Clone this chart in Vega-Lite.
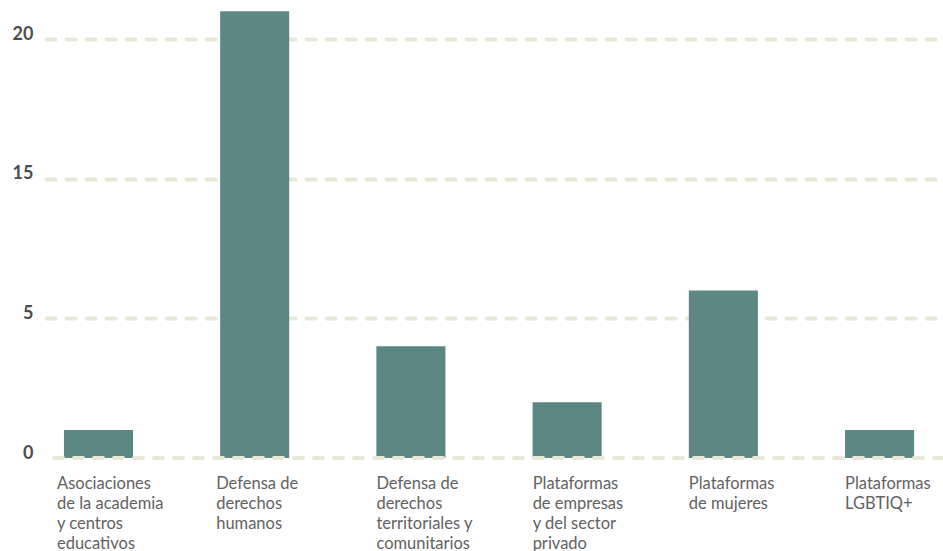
{
  "$schema": "https://vega.github.io/schema/vega-lite/v6.json",
  "width": 897,
  "height": 458,
  "autosize": {"type": "none"},
  "padding": {"left": 46, "top": 0, "right": 0, "bottom": 93},
  "background": "#ffffff",
  "config": {
    "view": {"stroke": null},
    "font": "Lato"
  },
  "layer": [
    {
      "data": {
        "values": [
          {"categoria": "Asociaciones|de la academia|y centros|educativos", "valor": 1},
          {"categoria": "Defensa de|derechos|humanos", "valor": 16},
          {"categoria": "Defensa de|derechos|territoriales y|comunitarios", "valor": 4},
          {"categoria": "Plataformas|de empresas|y del sector|privado", "valor": 2},
          {"categoria": "Plataformas|de mujeres", "valor": 6},
          {"categoria": "Plataformas|LGBTIQ+", "valor": 1}
        ]
      },
      "mark": {"type": "bar", "color": "#5d8784"},
      "encoding": {
        "x": {
          "field": "categoria",
          "type": "nominal",
          "sort": null,
          "scale": {"paddingInner": 0.558, "paddingOuter": 0.15, "align": 0.383},
          "axis": {
            "title": null,
            "domain": false,
            "ticks": false,
            "labelAngle": 0,
            "labelAlign": "left",
            "labelBaseline": "top",
            "labelOffset": {"expr": "datum.value == 'Asociaciones|de la academia|y centros|educativos' ? -41.5 : datum.value == 'Defensa de|derechos|humanos' ? -38.5 : -34.5"},
            "labelPadding": 17,
            "labelFont": "Lato",
            "labelFontSize": 16.5,
            "labelColor": "#626262",
            "labelLineHeight": 20,
            "labelExpr": "split(datum.label, '|')",
            "labelLimit": 200
          }
        },
        "y": {
          "field": "valor",
          "type": "quantitative",
          "scale": {"domain": [0, 16.4], "nice": false},
          "axis": {
            "title": null,
            "domain": false,
            "ticks": false,
            "values": [0, 5, 10, 15],
            "labelExpr": "datum.value == 10 ? '15' : datum.value == 15 ? '20' : datum.label",
            "labelFont": "Lato",
            "labelFontSize": 18,
            "labelFontWeight": "bold",
            "labelColor": "#4d4d4d",
            "labelBaseline": "alphabetic",
            "labelPadding": 13,
            "grid": true,
            "gridColor": "#e9e7d8",
            "gridOpacity": {"condition": {"test": "datum.value == 0", "value": 0}, "value": 1},
            "gridWidth": 4,
            "gridDash": [9, 11],
            "gridCap": "round"
          }
        }
      }
    },
    {
      "data": {"values": [{"base": 0}]},
      "mark": {"type": "rule", "color": "#e9e7d8", "strokeWidth": 4, "strokeDash": [9, 11], "strokeCap": "round"},
      "encoding": {
        "y": {"field": "base", "type": "quantitative"}
      }
    }
  ]
}
